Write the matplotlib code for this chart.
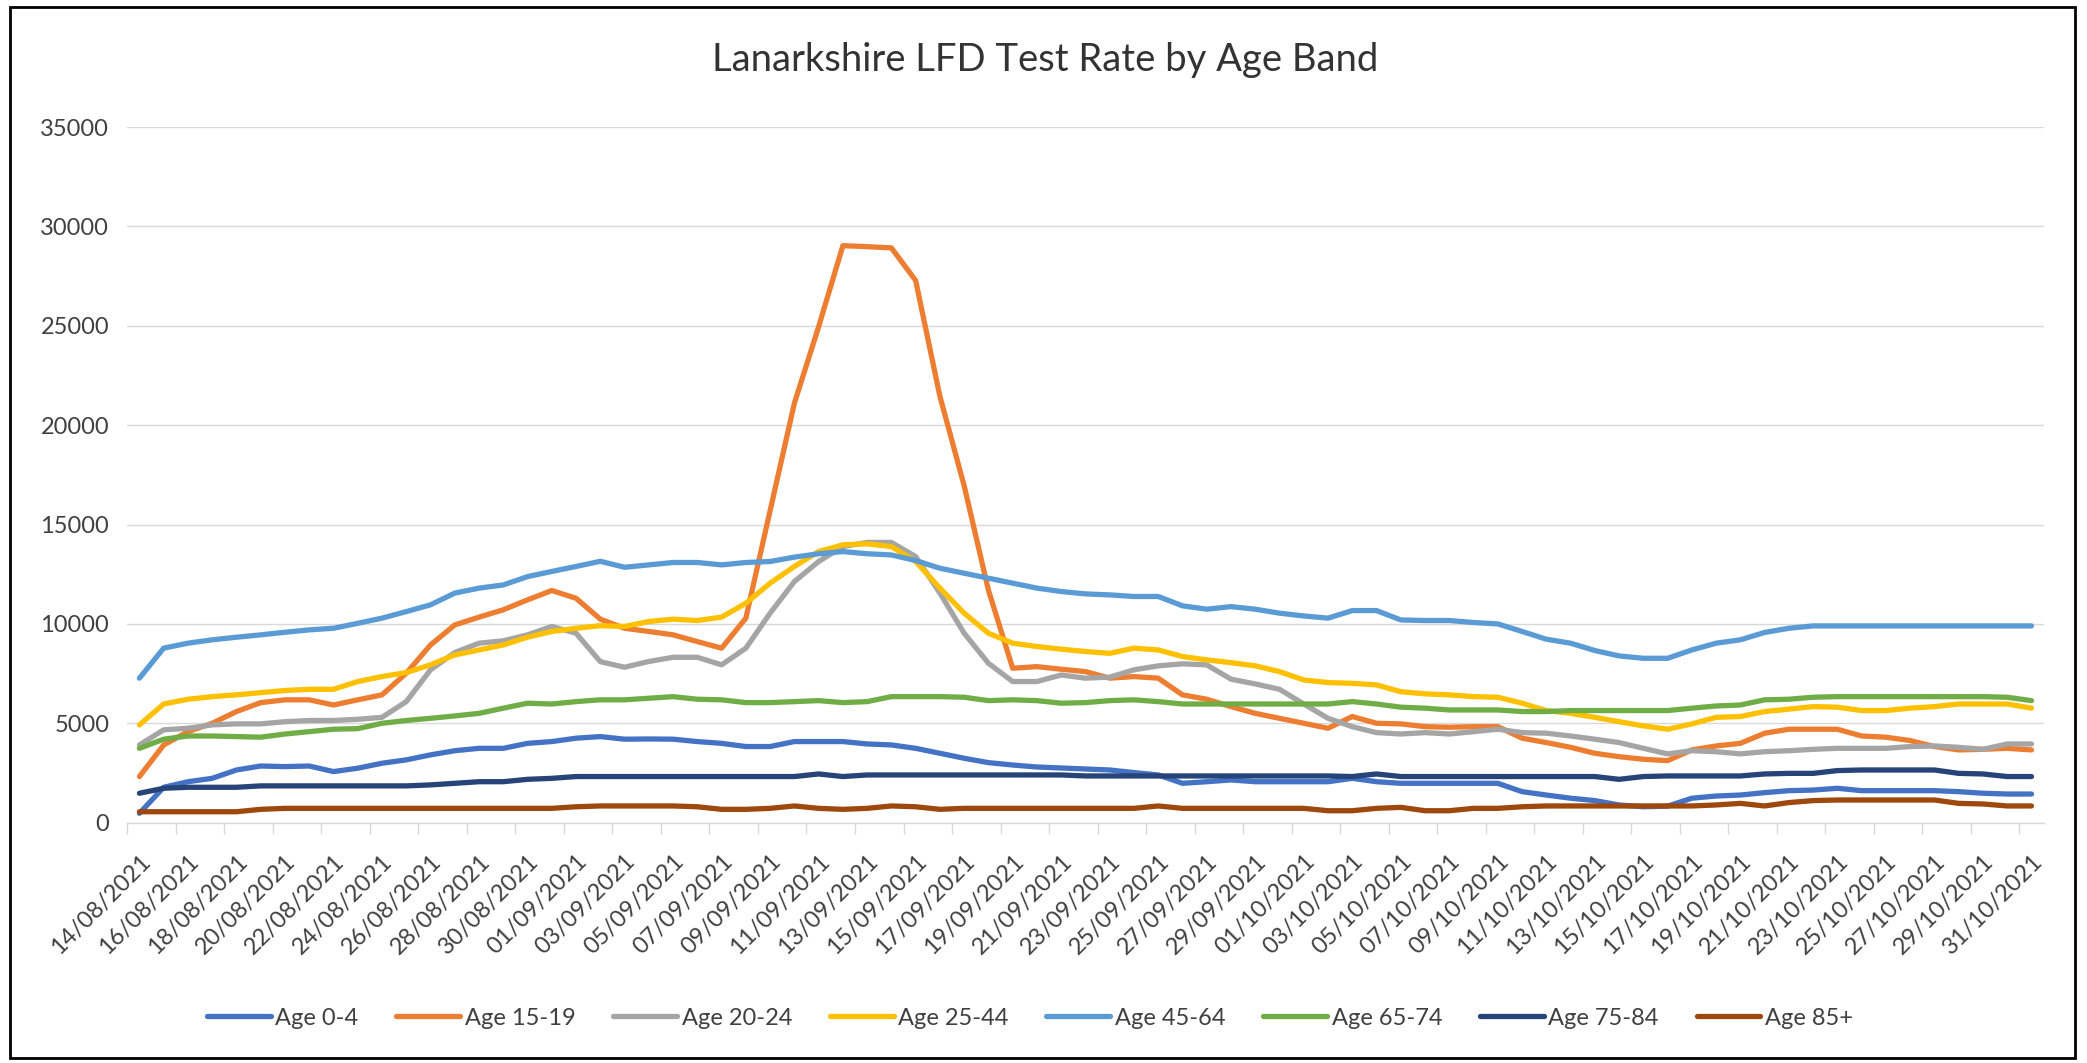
import numpy as np
import pandas as pd
import matplotlib
matplotlib.use("Agg")
import matplotlib.pyplot as plt
from matplotlib.patches import Rectangle

plt.rcParams['font.family'] = ['Lato', 'DejaVu Sans']

# Daily categories 14/08/2021 .. 31/10/2021
dates = pd.date_range('2021-08-14', '2021-10-31', freq='D')
date_labels = [d.strftime('%d/%m/%Y') for d in dates]

series_names = ['Age 0-4', 'Age 15-19', 'Age 20-24', 'Age 25-44',
                'Age 45-64', 'Age 65-74', 'Age 75-84', 'Age 85+']
series_colors = ['#4472C4', '#ED7D31', '#A5A5A5', '#FFC000',
                 '#5B9BD5', '#70AD47', '#264478', '#9E480E']

age_0_4 = [470, 1780, 2060, 2230, 2650, 2850, 2820, 2850, 2570, 2740,
           2990, 3160, 3410, 3620, 3740, 3740, 3990, 4080, 4250, 4330,
           4200, 4210, 4200, 4080, 3990, 3830, 3830, 4080, 4080, 4080,
           3960, 3910, 3740, 3490, 3240, 3020, 2900, 2800, 2750, 2700,
           2650, 2520, 2400, 1980, 2060, 2150, 2060, 2060, 2060, 2060,
           2230, 2060, 1980, 1980, 1980, 1980, 1980, 1560, 1390, 1230,
           1110, 890, 800, 830, 1230, 1340, 1390, 1510, 1610, 1640,
           1730, 1610, 1610, 1610, 1610, 1560, 1480, 1440, 1440]

age_15_19 = [2320, 3910, 4580, 5000, 5590, 6040, 6180, 6180, 5920, 6180,
             6430, 7520, 8940, 9950, 10340, 10710, 11210, 11680, 11290, 10240,
             9780, 9620, 9450, 9110, 8780, 10290, 15700, 21100, 24950, 29030,
             28980, 28920, 27280, 21450, 16950, 11700, 7770, 7850, 7720, 7600,
             7270, 7350, 7270, 6430, 6210, 5840, 5500, 5250, 5000, 4750,
             5340, 5000, 4970, 4830, 4800, 4830, 4830, 4250, 4030, 3790,
             3490, 3320, 3190, 3120, 3660, 3860, 3990, 4500, 4700, 4700,
             4700, 4360, 4300, 4130, 3830, 3660, 3690, 3740, 3660]

age_20_24 = [3910, 4670, 4750, 4920, 4970, 4970, 5080, 5140, 5140, 5200,
             5300, 6090, 7690, 8560, 9030, 9150, 9450, 9870, 9530, 8100,
             7820, 8110, 8320, 8320, 7940, 8780, 10540, 12130, 13140, 13890,
             14100, 14100, 13390, 11550, 9530, 8020, 7100, 7100, 7430, 7270,
             7320, 7690, 7890, 7990, 7940, 7220, 6980, 6710, 5970, 5250,
             4830, 4530, 4460, 4530, 4460, 4580, 4700, 4530, 4500, 4360,
             4200, 4030, 3740, 3460, 3620, 3570, 3460, 3570, 3620, 3690,
             3740, 3740, 3740, 3830, 3860, 3790, 3690, 3960, 3960]

age_25_44 = [4920, 5970, 6210, 6340, 6430, 6540, 6650, 6710, 6710, 7100,
             7350, 7550, 7940, 8440, 8690, 8940, 9330, 9620, 9780, 9910,
             9870, 10120, 10240, 10170, 10340, 11040, 12050, 12890, 13640, 13980,
             14030, 13890, 13140, 11800, 10540, 9530, 9030, 8860, 8730, 8610,
             8520, 8780, 8690, 8360, 8190, 8050, 7890, 7600, 7180, 7050,
             7010, 6930, 6590, 6480, 6430, 6340, 6310, 6010, 5640, 5500,
             5300, 5080, 4870, 4700, 4970, 5300, 5340, 5590, 5710, 5840,
             5810, 5640, 5640, 5760, 5840, 5970, 5970, 5970, 5760]

age_45_64 = [7270, 8780, 9030, 9200, 9330, 9450, 9580, 9700, 9780, 10030,
             10290, 10620, 10960, 11550, 11800, 11960, 12380, 12640, 12890, 13150,
             12850, 12970, 13090, 13090, 12970, 13090, 13140, 13360, 13530, 13640,
             13530, 13470, 13190, 12800, 12550, 12300, 12050, 11800, 11630, 11510,
             11460, 11380, 11380, 10910, 10740, 10870, 10740, 10540, 10400, 10290,
             10670, 10670, 10200, 10170, 10170, 10070, 10000, 9620, 9230, 9030,
             8660, 8390, 8270, 8270, 8690, 9030, 9200, 9570, 9780, 9900,
             9900, 9900, 9900, 9900, 9900, 9900, 9900, 9900, 9900]

age_65_74 = [3740, 4200, 4360, 4360, 4330, 4300, 4460, 4580, 4700, 4730,
             5000, 5140, 5250, 5370, 5500, 5760, 6010, 5970, 6090, 6180,
             6180, 6260, 6340, 6210, 6180, 6040, 6040, 6090, 6140, 6040,
             6090, 6340, 6340, 6340, 6310, 6140, 6180, 6140, 6010, 6040,
             6140, 6180, 6090, 5970, 5970, 5970, 5970, 5970, 5970, 5970,
             6090, 5970, 5810, 5760, 5670, 5670, 5670, 5590, 5590, 5640,
             5640, 5640, 5640, 5640, 5760, 5870, 5920, 6180, 6210, 6310,
             6340, 6340, 6340, 6340, 6340, 6340, 6340, 6310, 6140]

age_75_84 = [1480, 1730, 1780, 1780, 1780, 1850, 1850, 1850, 1850, 1850,
             1850, 1850, 1900, 1980, 2060, 2060, 2180, 2230, 2320, 2320,
             2320, 2320, 2320, 2320, 2320, 2320, 2320, 2320, 2450, 2320,
             2400, 2400, 2400, 2400, 2400, 2400, 2400, 2400, 2400, 2350,
             2350, 2350, 2350, 2350, 2350, 2350, 2350, 2350, 2350, 2350,
             2320, 2450, 2320, 2320, 2320, 2320, 2320, 2320, 2320, 2320,
             2320, 2180, 2320, 2350, 2350, 2350, 2350, 2450, 2480, 2480,
             2620, 2650, 2650, 2650, 2650, 2480, 2450, 2320, 2320]

age_85_plus = [550, 550, 550, 550, 550, 670, 720, 720, 720, 720,
               720, 720, 720, 720, 720, 720, 720, 720, 800, 840,
               840, 840, 840, 800, 670, 670, 720, 840, 720, 670,
               720, 840, 800, 670, 720, 720, 720, 720, 720, 720,
               720, 720, 840, 720, 720, 720, 720, 720, 720, 600,
               600, 720, 770, 600, 600, 720, 720, 800, 840, 840,
               840, 840, 840, 840, 840, 890, 970, 840, 1010, 1110,
               1140, 1140, 1140, 1140, 1140, 970, 940, 840, 840]

all_series = [age_0_4, age_15_19, age_20_24, age_25_44,
              age_45_64, age_65_74, age_75_84, age_85_plus]

fig = plt.figure(figsize=(20.87, 10.63), dpi=100)
ax = fig.add_axes([0.0610, 0.2261, 0.9182, 0.6544])

x = np.arange(len(dates))
for vals, name, col in zip(all_series, series_names, series_colors):
    ax.plot(x, vals, color=col, lw=3.8, label=name,
            solid_joinstyle='round', solid_capstyle='round')

ax.set_xlim(-0.5, len(dates) - 0.5)
ax.set_ylim(0, 35000)
ax.set_yticks(np.arange(0, 35001, 5000))
ax.yaxis.grid(True, color='#D9D9D9', lw=1.0)
ax.set_axisbelow(True)
for s in ['top', 'right', 'left']:
    ax.spines[s].set_visible(False)
ax.spines['bottom'].set_color('#D9D9D9')
ax.spines['bottom'].set_linewidth(1.0)

ax.tick_params(axis='y', length=0, pad=13, labelsize=17, labelcolor='#404040')
ax.set_xticks(x[::2])
ax.set_xticklabels(date_labels[::2], rotation=45, ha='right', va='top',
                   rotation_mode='anchor', fontsize=17, color='#404040')
ax.tick_params(axis='x', which='major', length=0, pad=20)
ax.set_xticks(np.arange(-0.5, len(dates) - 1, 2), minor=True)
ax.tick_params(axis='x', which='minor', length=8, width=1.0, color='#D9D9D9')

fig.text(0.5007, 0.9436, 'Lanarkshire LFD Test Rate by Age Band',
         ha='center', va='center', fontsize=27.5, color='#333333')

fig.legend(loc='center', bbox_to_anchor=(0.4935, 0.0423), ncol=8, frameon=False,
           fontsize=17, handlelength=2.7, handletextpad=0.2, columnspacing=1.6,
           labelcolor='#404040')

fig.patches.append(Rectangle((10 / 2087, 5 / 1063), 2065 / 2087, 1051 / 1063,
                             transform=fig.transFigure, fill=False,
                             edgecolor='black', lw=2))

fig.savefig('out.png', dpi=100, facecolor='white')
